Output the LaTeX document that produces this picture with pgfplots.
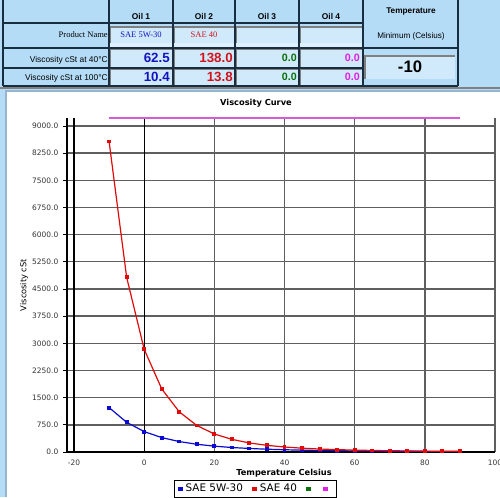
\documentclass[border=0pt]{standalone}
\usepackage{fontspec}
\setmainfont{Liberation Sans}
\newfontfamily\serif{Liberation Serif}
\newfontfamily\dejavu{DejaVu Sans}
\usepackage{pgfplots}
\pgfplotsset{compat=1.18}
\definecolor{tblbg}{RGB}{181,220,246}
\definecolor{cellbg}{RGB}{208,234,251}
\definecolor{gridln}{RGB}{25,45,65}
\definecolor{panelln}{RGB}{150,180,205}
\definecolor{sblue}{RGB}{10,10,210}
\definecolor{sred}{RGB}{225,10,10}
\definecolor{sgreen}{RGB}{10,110,10}
\definecolor{smag}{RGB}{215,90,215}
\definecolor{vmag}{RGB}{225,30,225}
\definecolor{grd}{RGB}{95,95,95}
\definecolor{vblue}{RGB}{20,20,190}
\definecolor{vred}{RGB}{210,20,30}
\newcommand\inbox[4]{\fill[cellbg] (#1,#2) rectangle (#3,#4); \draw[gray,line width=1pt] (#1,#4) -- (#1,#2) -- (#3,#2);}
\begin{document}
\begin{tikzpicture}
\useasboundingbox (0,0) rectangle (375pt,-372.75pt);
\begin{scope}[x=0.75pt,y=-0.75pt]
% backgrounds
\fill[tblbg] (0,0) rectangle (500,497);
\fill[white] (6,91) rectangle (500,497);
\draw[panelln,line width=0.8pt] (6,497) -- (6,91) -- (500,91);
\draw[gray,line width=0.8pt] (0,88) -- (500,88);
% input boxes
\foreach \a/\b in {110/172,174/234,236/298,300/362}{
  \inbox{\a}{27}{\b}{43}
  \fill[cellbg!70!white] (\a,43) rectangle (\b,47.5);
  \inbox{\a}{49}{\b}{67.5}
  \inbox{\a}{69}{\b}{85.5}
}
\inbox{365}{56}{455}{79}
% grid lines of the table
\begin{scope}[gridln,line width=0.9pt]
\draw (3,0) -- (3,86);
\foreach \xx in {109,173,235,299,363}{\draw (\xx,0) -- (\xx,86);}
\draw (458,0) -- (458,86);
\draw (3,23) -- (363,23);
\draw (3,48) -- (458,48);
\draw (3,68) -- (363,68);
\draw (3,86) -- (458,86);
\end{scope}
% table text
\foreach \xx/\t in {141/Oil 1,204/Oil 2,267/Oil 3,331/Oil 4}{
  \node[font=\bfseries\fontsize{6.3}{7}\selectfont] at (\xx,16) {\t};}
\node[font=\bfseries\fontsize{6.2}{7}\selectfont] at (411,12) {Temperature};
\node[font=\fontsize{6.1}{7}\selectfont] at (411,36) {Minimum (Celsius)};
\node[font=\serif\fontsize{6.4}{7}\selectfont,anchor=east,inner sep=0pt] at (108,35) {Product Name};
\node[font=\fontsize{6.3}{7}\selectfont,anchor=east,inner sep=0pt] at (108,60) {Viscosity cSt at 40°C};
\node[font=\fontsize{6.3}{7}\selectfont,anchor=east,inner sep=0pt] at (108,78) {Viscosity cSt at 100°C};
\node[font=\serif\fontsize{6.4}{7}\selectfont,text=vblue] at (141,35) {SAE 5W-30};
\node[font=\serif\fontsize{6.4}{7}\selectfont,text=vred] at (204,35) {SAE 40};
\begin{scope}[every node/.style={font=\bfseries\fontsize{10}{11}\selectfont,anchor=east,inner sep=0pt}]
\node[text=vblue] at (170,58) {62.5};
\node[text=vblue] at (170,77) {10.4};
\node[text=vred] at (233,58) {138.0};
\node[text=vred] at (233,77) {13.8};
\node[text=sgreen,font=\bfseries\fontsize{8}{9}\selectfont] at (297,58) {0.0};
\node[text=sgreen,font=\bfseries\fontsize{8}{9}\selectfont] at (297,77) {0.0};
\node[text=vmag,font=\bfseries\fontsize{8}{9}\selectfont] at (360,58) {0.0};
\node[text=vmag,font=\bfseries\fontsize{8}{9}\selectfont] at (360,77) {0.0};
\end{scope}
\node[font=\bfseries\fontsize{12.5}{13}\selectfont] at (410,67) {-10};
\end{scope}
\begin{axis}[
  at={(50.25pt,-339pt)}, anchor=south west,
  scale only axis, width=321pt, height=250.5pt,
  xmin=-22, xmax=100, ymin=0, ymax=9220,
  clip=false,
  axis lines*=left,
  axis line style={black,line width=0.8pt},
  xtick={-20,0,...,100}, ytick={0,750,...,9000},
  grid=major, major grid style={grd,line width=1pt},
  extra x ticks={-20,0}, extra x tick labels={},
  extra x tick style={major grid style={black,line width=1pt}},
  xtick style={draw=none},
  ytick style={black,line width=0.6pt},
  tick align=outside, major tick length=3pt,
  /pgf/number format/assume math mode=true,
  yticklabel style={/pgf/number format/.cd,fixed,fixed zerofill,precision=1,1000 sep={}},
  tick label style={font=\dejavu\fontsize{5.6}{6}\selectfont, text=black!80},
  xticklabel style={yshift=0.5pt},
  every axis title shift=0pt,
  title={Viscosity Curve},
  title style={at={(axis description cs:0.4416,1.045)},anchor=center,yshift=0pt,font=\dejavu\bfseries\fontsize{6.2}{7}\selectfont},
  xlabel={Temperature Celsius},
  xlabel style={at={(axis description cs:0.507,-0.063)},anchor=center,font=\dejavu\bfseries\fontsize{6.2}{7}\selectfont},
  ylabel={Viscosity cSt},
  ylabel style={at={(axis description cs:-0.1005,0.5)},anchor=center,font=\dejavu\fontsize{6.2}{7}\selectfont},
  legend columns=4,
  legend style={at={(axis description cs:0.4404,-0.1108)},anchor=center,draw=black,line width=0.7pt,
    font=\dejavu\fontsize{7.8}{9}\selectfont,inner ysep=0.5pt,inner xsep=3pt,
    /tikz/every even column/.append style={column sep=5pt}},
  legend image code/.code={\fill[#1] (0pt,-1.4pt) rectangle (2.8pt,1.4pt);},
]
\addplot[color=sblue, line width=0.9pt, mark=square*, mark size=1pt] coordinates {
(-10,1226) (-5,820) (0,564) (5,398) (10,288.5) (15,214) (20,161.6) (25,124.3) (30,97.5) (35,77.4)
(40,62.5) (45,51.1) (50,42.3) (55,35.4) (60,29.9) (65,25.6) (70,22.0) (75,19.1) (80,16.7) (85,14.7) (90,13.0)};
\addlegendentry{SAE 5W-30}
\addplot[color=sred, line width=0.9pt, mark=square*, mark size=1pt] coordinates {
(-10,8570) (-5,4824) (0,2836) (5,1742) (10,1109) (15,732) (20,498) (25,349) (30,250) (35,184)
(40,138) (45,106) (50,82.3) (55,65.3) (60,52.5) (65,42.8) (70,35.3) (75,29.5) (80,24.9) (85,21.2) (90,18.2)};
\addlegendentry{SAE 40}
\addlegendimage{color=sgreen}
\addlegendentry{\mbox{}}
\addplot[color=smag, line width=1.6pt, no marks, forget plot] coordinates {(-10,9225) (90,9225)};
\addlegendimage{color=vmag}
\addlegendentry{\mbox{}}
\end{axis}
\end{tikzpicture}
\end{document}
